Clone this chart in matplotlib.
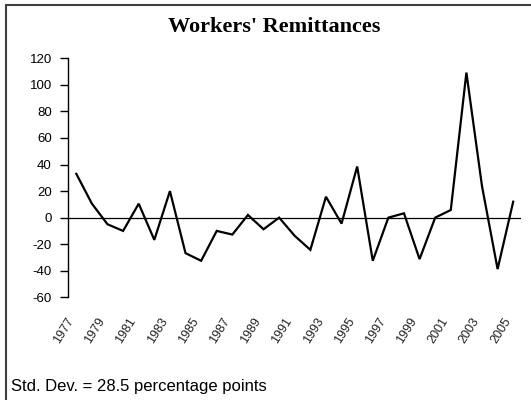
import matplotlib
matplotlib.use("Agg")
import matplotlib.pyplot as plt
import matplotlib.patches as mpatches

# ---- data ----
years = list(range(1977, 2006))
remittances = [33, 10.5, -5, -10, 10.5, -16.75, 20, -26.75, -32.5, -10,
               -12.75, 2, -8.75, 0, -13.75, -24.25, 15.75, -4.5, 38.5, -32.5,
               0, 3.25, -31.25, 0, 5.75, 109.25, 23.75, -38.75, 12]
tick_years = years[::2]
y_ticks = [-60, -40, -20, 0, 20, 40, 60, 80, 100, 120]
title = "Workers' Remittances"
note = "Std. Dev. = 28.5 percentage points"

W, H = 531, 400
fig = plt.figure(figsize=(W / 100, H / 100), dpi=100)
fig.patch.set_facecolor("white")

left, right, top, bottom = 68.5, 521, 58.3, 297.3
ax = fig.add_axes([left / W, 1 - bottom / H, (right - left) / W, (bottom - top) / H])

x = list(range(len(years)))
ax.plot(x, remittances, color="black", lw=1.6, solid_joinstyle="miter")
ax.axhline(0, color="black", lw=0.9)

ax.set_xlim(-0.5, len(years) - 0.5)
ax.set_ylim(-60, 120)
ax.set_yticks(y_ticks)
ax.set_yticklabels([str(v) for v in y_ticks], fontsize=9.5, family="Liberation Sans")
ax.tick_params(axis="y", direction="out", length=6, width=1, pad=6)

tick_pos = [years.index(y) for y in tick_years]
ax.set_xticks(tick_pos)
ax.set_xticklabels([str(y) for y in tick_years], rotation=58, ha="right", va="top",
                   fontsize=9, family="Liberation Sans", color="#222222")
ax.tick_params(axis="x", length=0, pad=13)

for s in ["top", "right", "bottom"]:
    ax.spines[s].set_visible(False)
ax.spines["left"].set_linewidth(1)

fig.text(274 / W, 1 - 32 / H, title, ha="center", va="baseline",
         fontsize=16, fontweight="bold", family="Liberation Serif")
fig.text(11 / W, 1 - 390.7 / H, note, ha="left", va="baseline",
         fontsize=12, family="Liberation Sans")

frame = mpatches.Rectangle((6 / W, -0.1), 1.2, (1 - 5.3 / H) + 0.1,
                           transform=fig.transFigure, fill=False,
                           edgecolor="#404040", lw=1.5, clip_on=False)
fig.patches.append(frame)

fig.savefig("out.png", dpi=100)
